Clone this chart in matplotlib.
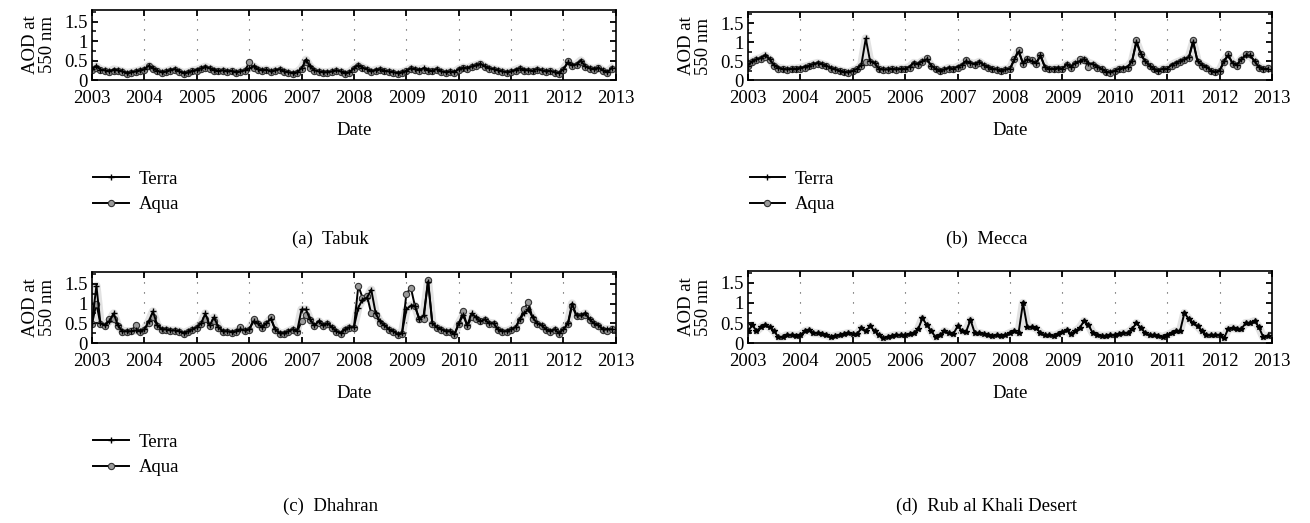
import numpy as np
import pandas as pd
import matplotlib
matplotlib.use("Agg")
import matplotlib.pyplot as plt
import matplotlib.dates as mdates
from matplotlib.ticker import MultipleLocator

plt.rcParams["font.family"] = ["Liberation Serif", "DejaVu Serif"]

# MONTHLY DATES (Jan 2003 - Dec 2012)
dates = pd.date_range("2003-01-01", periods=120, freq="MS")

# AOD VALUES (one row per year)
tabuk_terra = [
    0.28, 0.35, 0.27, 0.25, 0.22, 0.27, 0.25, 0.22, 0.18, 0.20, 0.22, 0.25,
    0.28, 0.37, 0.30, 0.24, 0.20, 0.22, 0.26, 0.28, 0.22, 0.18, 0.20, 0.24,
    0.26, 0.30, 0.34, 0.30, 0.26, 0.24, 0.25, 0.22, 0.24, 0.20, 0.22, 0.25,
    0.30, 0.35, 0.28, 0.25, 0.27, 0.22, 0.25, 0.28, 0.22, 0.20, 0.18, 0.20,
    0.30, 0.52, 0.35, 0.25, 0.22, 0.20, 0.20, 0.22, 0.25, 0.22, 0.18, 0.20,
    0.30, 0.38, 0.32, 0.28, 0.22, 0.26, 0.28, 0.24, 0.22, 0.20, 0.18, 0.20,
    0.24, 0.30, 0.28, 0.26, 0.30, 0.25, 0.24, 0.28, 0.22, 0.20, 0.22, 0.20,
    0.28, 0.32, 0.30, 0.35, 0.38, 0.42, 0.35, 0.30, 0.28, 0.25, 0.22, 0.20,
    0.22, 0.26, 0.30, 0.26, 0.25, 0.24, 0.28, 0.25, 0.22, 0.24, 0.20, 0.18,
    0.28, 0.45, 0.38, 0.40, 0.50, 0.35, 0.30, 0.28, 0.32, 0.25, 0.20, 0.30,
]
tabuk_aqua = [
    0.26, 0.32, 0.25, 0.22, 0.20, 0.24, 0.22, 0.20, 0.16, 0.18, 0.20, 0.22,
    0.26, 0.35, 0.28, 0.22, 0.18, 0.20, 0.24, 0.25, 0.20, 0.16, 0.18, 0.22,
    0.24, 0.28, 0.32, 0.28, 0.24, 0.22, 0.23, 0.20, 0.22, 0.18, 0.20, 0.22,
    0.45, 0.30, 0.25, 0.22, 0.25, 0.20, 0.22, 0.25, 0.20, 0.18, 0.16, 0.18,
    0.28, 0.45, 0.32, 0.22, 0.20, 0.18, 0.18, 0.20, 0.22, 0.20, 0.16, 0.18,
    0.28, 0.36, 0.30, 0.25, 0.20, 0.24, 0.26, 0.22, 0.20, 0.18, 0.16, 0.18,
    0.22, 0.28, 0.26, 0.24, 0.27, 0.22, 0.22, 0.25, 0.20, 0.18, 0.20, 0.18,
    0.26, 0.30, 0.28, 0.33, 0.36, 0.40, 0.33, 0.28, 0.26, 0.23, 0.20, 0.18,
    0.20, 0.24, 0.28, 0.24, 0.23, 0.22, 0.26, 0.23, 0.20, 0.22, 0.18, 0.16,
    0.26, 0.48, 0.36, 0.38, 0.45, 0.33, 0.28, 0.26, 0.30, 0.23, 0.18, 0.28,
]

mecca_terra = [
    0.38, 0.50, 0.55, 0.58, 0.65, 0.55, 0.40, 0.32, 0.30, 0.28, 0.30, 0.30,
    0.32, 0.35, 0.38, 0.42, 0.45, 0.42, 0.38, 0.32, 0.28, 0.25, 0.22, 0.20,
    0.25, 0.30, 0.40, 1.10, 0.50, 0.45, 0.30, 0.28, 0.28, 0.30, 0.28, 0.30,
    0.30, 0.35, 0.45, 0.42, 0.50, 0.55, 0.38, 0.30, 0.25, 0.28, 0.32, 0.30,
    0.35, 0.40, 0.50, 0.45, 0.42, 0.48, 0.40, 0.35, 0.30, 0.28, 0.25, 0.28,
    0.30, 0.55, 0.75, 0.45, 0.55, 0.50, 0.45, 0.65, 0.35, 0.30, 0.30, 0.32,
    0.30, 0.42, 0.35, 0.45, 0.50, 0.55, 0.45, 0.42, 0.35, 0.30, 0.22, 0.20,
    0.25, 0.30, 0.32, 0.35, 0.50, 1.00, 0.70, 0.50, 0.38, 0.30, 0.25, 0.30,
    0.30, 0.40, 0.45, 0.50, 0.55, 0.60, 1.00, 0.50, 0.40, 0.35, 0.25, 0.22,
    0.25, 0.50, 0.65, 0.45, 0.40, 0.55, 0.65, 0.65, 0.50, 0.35, 0.30, 0.30,
]
mecca_aqua = [
    0.36, 0.48, 0.52, 0.55, 0.60, 0.52, 0.38, 0.30, 0.28, 0.27, 0.28, 0.28,
    0.30, 0.33, 0.36, 0.40, 0.43, 0.40, 0.36, 0.30, 0.26, 0.23, 0.20, 0.18,
    0.23, 0.28, 0.38, 0.48, 0.48, 0.43, 0.28, 0.26, 0.26, 0.28, 0.26, 0.28,
    0.28, 0.33, 0.43, 0.40, 0.48, 0.58, 0.36, 0.28, 0.23, 0.26, 0.30, 0.28,
    0.33, 0.38, 0.52, 0.43, 0.40, 0.46, 0.38, 0.33, 0.28, 0.26, 0.23, 0.26,
    0.28, 0.55, 0.80, 0.43, 0.55, 0.52, 0.43, 0.65, 0.33, 0.28, 0.28, 0.30,
    0.28, 0.40, 0.33, 0.43, 0.55, 0.52, 0.35, 0.40, 0.33, 0.28, 0.20, 0.18,
    0.23, 0.28, 0.30, 0.33, 0.48, 1.05, 0.68, 0.48, 0.36, 0.28, 0.23, 0.28,
    0.28, 0.38, 0.43, 0.48, 0.53, 0.58, 1.05, 0.48, 0.38, 0.33, 0.23, 0.20,
    0.23, 0.48, 0.68, 0.43, 0.38, 0.53, 0.68, 0.68, 0.48, 0.33, 0.28, 0.32,
]

dhahran_terra = [
    0.50, 1.45, 0.50, 0.45, 0.55, 0.75, 0.45, 0.30, 0.30, 0.30, 0.32, 0.30,
    0.35, 0.55, 0.80, 0.45, 0.35, 0.35, 0.32, 0.32, 0.30, 0.25, 0.30, 0.35,
    0.40, 0.50, 0.75, 0.45, 0.65, 0.40, 0.30, 0.30, 0.28, 0.30, 0.35, 0.32,
    0.35, 0.55, 0.50, 0.40, 0.50, 0.62, 0.35, 0.25, 0.25, 0.30, 0.35, 0.30,
    0.85, 0.85, 0.60, 0.45, 0.55, 0.45, 0.50, 0.40, 0.30, 0.25, 0.35, 0.40,
    0.40, 0.90, 1.10, 1.15, 1.35, 0.75, 0.55, 0.45, 0.35, 0.30, 0.22, 0.25,
    0.85, 0.95, 0.95, 0.60, 0.70, 1.55, 0.50, 0.40, 0.35, 0.30, 0.30, 0.22,
    0.50, 0.70, 0.45, 0.75, 0.65, 0.55, 0.60, 0.50, 0.50, 0.35, 0.30, 0.30,
    0.35, 0.40, 0.60, 0.75, 0.85, 0.65, 0.50, 0.45, 0.35, 0.30, 0.35, 0.25,
    0.35, 0.50, 1.00, 0.70, 0.70, 0.75, 0.60, 0.50, 0.45, 0.35, 0.35, 0.35,
]
dhahran_aqua = [
    0.48, 1.00, 0.48, 0.42, 0.62, 0.60, 0.42, 0.28, 0.28, 0.30, 0.45, 0.28,
    0.32, 0.50, 0.65, 0.42, 0.33, 0.33, 0.30, 0.30, 0.28, 0.23, 0.28, 0.32,
    0.38, 0.48, 0.60, 0.43, 0.55, 0.38, 0.28, 0.28, 0.26, 0.28, 0.40, 0.30,
    0.33, 0.60, 0.48, 0.38, 0.48, 0.65, 0.33, 0.23, 0.23, 0.28, 0.33, 0.28,
    0.55, 0.70, 0.58, 0.43, 0.50, 0.43, 0.48, 0.38, 0.28, 0.23, 0.33, 0.38,
    0.38, 1.45, 1.15, 1.20, 0.75, 0.70, 0.52, 0.42, 0.33, 0.28, 0.20, 0.23,
    1.25, 1.40, 0.95, 0.60, 0.60, 1.60, 0.48, 0.38, 0.33, 0.28, 0.28, 0.20,
    0.48, 0.80, 0.42, 0.65, 0.62, 0.55, 0.58, 0.48, 0.48, 0.33, 0.28, 0.28,
    0.33, 0.38, 0.58, 0.85, 1.05, 0.60, 0.48, 0.42, 0.33, 0.28, 0.33, 0.23,
    0.33, 0.48, 0.95, 0.68, 0.68, 0.72, 0.58, 0.48, 0.42, 0.33, 0.30, 0.35,
]

rub_terra = [
    0.30, 0.45, 0.30, 0.40, 0.45, 0.40, 0.30, 0.15, 0.15, 0.20, 0.20, 0.18,
    0.20, 0.30, 0.32, 0.25, 0.25, 0.22, 0.20, 0.15, 0.18, 0.20, 0.22, 0.25,
    0.22, 0.22, 0.38, 0.30, 0.42, 0.30, 0.20, 0.12, 0.15, 0.18, 0.20, 0.20,
    0.20, 0.22, 0.25, 0.35, 0.62, 0.45, 0.30, 0.15, 0.20, 0.30, 0.25, 0.22,
    0.42, 0.30, 0.28, 0.58, 0.25, 0.25, 0.22, 0.20, 0.18, 0.20, 0.18, 0.20,
    0.25, 0.30, 0.25, 1.00, 0.40, 0.40, 0.38, 0.25, 0.20, 0.20, 0.18, 0.22,
    0.28, 0.32, 0.22, 0.30, 0.38, 0.55, 0.45, 0.25, 0.20, 0.18, 0.18, 0.20,
    0.20, 0.22, 0.25, 0.25, 0.35, 0.50, 0.38, 0.25, 0.20, 0.20, 0.18, 0.15,
    0.20, 0.25, 0.30, 0.30, 0.75, 0.60, 0.50, 0.42, 0.30, 0.20, 0.20, 0.20,
    0.20, 0.12, 0.35, 0.38, 0.35, 0.35, 0.50, 0.50, 0.55, 0.40, 0.15, 0.18,
]

# caption, terra, aqua, axes rect, caption offset below axes
panels = [
    ("(a)  Tabuk", tabuk_terra, tabuk_aqua, [0.0702, 0.847, 0.40, 0.134], 0.304),
    ("(b)  Mecca", mecca_terra, mecca_aqua, [0.571, 0.847, 0.40, 0.130], 0.304),
    ("(c)  Dhahran", dhahran_terra, dhahran_aqua, [0.0702, 0.344, 0.40, 0.136], 0.312),
    ("(d)  Rub al Khali Desert", rub_terra, None, [0.571, 0.344, 0.40, 0.138], 0.312),
]

fs = 13.5

fig = plt.figure(figsize=(13.1, 5.23), dpi=100)

for caption, terra, aqua, rect, cap_off in panels:
    ax = fig.add_axes(rect)
    ax.plot(dates, terra, color="#e2e2e2", lw=6, zorder=1)
    if aqua is not None:
        ax.plot(dates, terra, color="black", lw=1.4, marker="+", ms=4.5,
                mew=1.0, label="Terra", zorder=3)
        ax.plot(dates, aqua, color="black", lw=1.4, marker="o", ms=4.5,
                mfc="#9a9a9a", mec="#333333", mew=0.8, label="Aqua", zorder=2)
    else:
        ax.plot(dates, terra, color="black", lw=1.4, marker="*", ms=4,
                zorder=3)

    ax.set_xlim(pd.Timestamp("2003-01-01"), pd.Timestamp("2013-01-01"))
    ax.set_ylim(0, 1.8)
    ax.xaxis.set_major_locator(mdates.YearLocator())
    ax.xaxis.set_major_formatter(mdates.DateFormatter("%Y"))
    ax.yaxis.set_minor_locator(MultipleLocator(0.25))
    ax.set_yticks([0, 0.5, 1, 1.5])
    ax.set_yticklabels(["0", "0.5", "1", "1.5"])
    ax.tick_params(which="both", direction="in", top=True, right=True,
                   labelsize=fs)
    ax.tick_params(axis="x", pad=7)
    ax.tick_params(axis="y", pad=3)
    ax.tick_params(which="major", length=4, width=1.3)
    ax.tick_params(which="minor", length=3, width=1.1)
    ax.grid(axis="x", linestyle=(0, (1, 8)), color="#444444", lw=0.8)
    for sp in ax.spines.values():
        sp.set_linewidth(1.2)
    ax.set_xlabel("Date", fontsize=fs, labelpad=11)
    ax.set_ylabel("AOD at\n550 nm", fontsize=fs, linespacing=1.0,
                  labelpad=6)

    left, bottom, width, height = rect
    fig.text(left + width * 0.455, bottom - cap_off, caption, ha="center",
             va="center", fontsize=fs)
    if aqua is not None:
        ax.legend(loc="upper left", bbox_to_anchor=(left - 0.006, bottom - 0.155),
                  bbox_transform=fig.transFigure, frameon=False, fontsize=fs,
                  handlelength=1.9, handletextpad=0.5, labelspacing=0.45,
                  borderpad=0)

plt.savefig("out.png", dpi=100)
